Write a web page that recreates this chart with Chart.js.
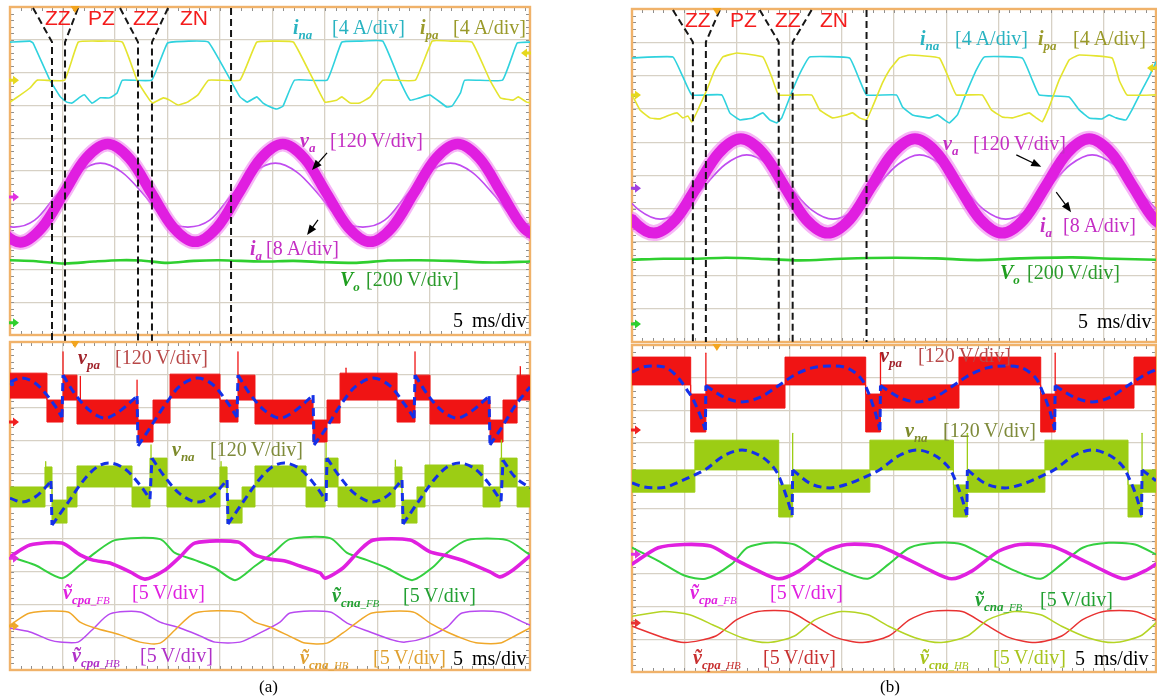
<!DOCTYPE html>
<html lang="en">
<head>
<meta charset="utf-8">
<title>Arm currents, arm voltages and capacitor ripple</title>
<script src="https://cdn.jsdelivr.net/npm/chart.js@4.4.1/dist/chart.umd.min.js"></script>
<style>
html,body{margin:0;padding:0;background:#fff;}
#fig{position:relative;width:1157px;height:698px;overflow:hidden;background:#fff;}
#fig canvas{position:absolute;}
.t{position:absolute;white-space:nowrap;font-family:"Liberation Serif","DejaVu Serif",serif;font-size:20px;line-height:20px;}
.v{font-weight:bold;font-style:italic;}
.v sub{font-size:13px;vertical-align:baseline;position:relative;top:5px;}
.v sub i{font-weight:normal;font-size:11px;}
.z{position:absolute;font-family:"Liberation Sans",Arial,sans-serif;font-size:21px;line-height:21px;color:#f41c1c;}
.cap{position:absolute;font-family:"Liberation Serif","DejaVu Serif",serif;font-size:17px;line-height:17px;color:#000;}
</style>
</head>
<body>
<div id="fig">
<canvas id="aTop" width="545" height="348" style="left:0;top:0"></canvas>
<canvas id="aBot" width="545" height="345" style="left:0;top:336px"></canvas>
<canvas id="bTop" width="537" height="350" style="left:620px;top:0"></canvas>
<canvas id="bBot" width="537" height="337" style="left:620px;top:342px"></canvas>

<!-- (a) upper screen -->
<div class="z" style="left:45px;top:7px">ZZ</div>
<div class="z" style="left:88px;top:7px">PZ</div>
<div class="z" style="left:133px;top:7px">ZZ</div>
<div class="z" style="left:180px;top:7px">ZN</div>
<div class="t" style="left:293px;top:17px;color:#29b3c1"><span class="v">i<sub>na</sub></span></div>
<div class="t" style="left:332px;top:17px;color:#29b3c1">[4&#8201;A/div]</div>
<div class="t" style="left:420px;top:17px;color:#9a9a2a"><span class="v">i<sub>pa</sub></span></div>
<div class="t" style="left:453px;top:17px;color:#9a9a2a">[4&#8201;A/div]</div>
<div class="t" style="left:300px;top:130px;color:#c42ec4"><span class="v">v<sub>a</sub></span></div>
<div class="t" style="left:330px;top:130px;color:#c42ec4">[120&#8201;V/div]</div>
<div class="t" style="left:250px;top:238px;color:#c42ec4"><span class="v">i<sub>a</sub></span></div>
<div class="t" style="left:266px;top:238px;color:#c42ec4">[8&#8201;A/div]</div>
<div class="t" style="left:340px;top:269px;color:#1e9e1e"><span class="v">V<sub>o</sub></span></div>
<div class="t" style="left:366px;top:269px;color:#2a9a2a">[200&#8201;V/div]</div>
<div class="t" style="left:453px;top:310px;color:#000">5&#8201; ms/div</div>

<!-- (a) lower screen -->
<div class="t" style="left:78px;top:347px;color:#a0222a"><span class="v">v<sub>pa</sub></span></div>
<div class="t" style="left:115px;top:347px;color:#b84848">[120&#8201;V/div]</div>
<div class="t" style="left:172px;top:439px;color:#7d8a2a"><span class="v">v<sub>na</sub></span></div>
<div class="t" style="left:210px;top:439px;color:#7e8a3a">[120&#8201;V/div]</div>
<div class="t" style="left:63px;top:582px;color:#e020e0"><span class="v">&#7805;<sub>cpa<i>_FB</i></sub></span></div>
<div class="t" style="left:132px;top:582px;color:#e020e0">[5&#8201;V/div]</div>
<div class="t" style="left:332px;top:585px;color:#22a032"><span class="v">&#7805;<sub>cna<i>_FB</i></sub></span></div>
<div class="t" style="left:403px;top:585px;color:#22a032">[5&#8201;V/div]</div>
<div class="t" style="left:72px;top:645px;color:#b030c8"><span class="v">&#7805;<sub>cpa<i>_HB</i></sub></span></div>
<div class="t" style="left:140px;top:645px;color:#b030c8">[5&#8201;V/div]</div>
<div class="t" style="left:300px;top:647px;color:#e0a030"><span class="v">&#7805;<sub>cna<i>_HB</i></sub></span></div>
<div class="t" style="left:373px;top:647px;color:#e0a030">[5&#8201;V/div]</div>
<div class="t" style="left:453px;top:648px;color:#000">5&#8201; ms/div</div>
<div class="cap" style="left:259px;top:678px">(a)</div>

<!-- (b) upper screen -->
<div class="z" style="left:685px;top:9px">ZZ</div>
<div class="z" style="left:730px;top:9px">PZ</div>
<div class="z" style="left:775px;top:9px">ZZ</div>
<div class="z" style="left:820px;top:9px">ZN</div>
<div class="t" style="left:920px;top:28px;color:#29b3c1"><span class="v">i<sub>na</sub></span></div>
<div class="t" style="left:955px;top:28px;color:#29b3c1">[4&#8201;A/div]</div>
<div class="t" style="left:1038px;top:28px;color:#9a9a2a"><span class="v">i<sub>pa</sub></span></div>
<div class="t" style="left:1073px;top:28px;color:#9a9a2a">[4&#8201;A/div]</div>
<div class="t" style="left:943px;top:133px;color:#c42ec4"><span class="v">v<sub>a</sub></span></div>
<div class="t" style="left:973px;top:133px;color:#c42ec4">[120&#8201;V/div]</div>
<div class="t" style="left:1040px;top:215px;color:#c42ec4"><span class="v">i<sub>a</sub></span></div>
<div class="t" style="left:1063px;top:215px;color:#c42ec4">[8&#8201;A/div]</div>
<div class="t" style="left:1000px;top:262px;color:#1e9e1e"><span class="v">V<sub>o</sub></span></div>
<div class="t" style="left:1027px;top:262px;color:#2a9a2a">[200&#8201;V/div]</div>
<div class="t" style="left:1078px;top:311px;color:#000">5&#8201; ms/div</div>

<!-- (b) lower screen -->
<div class="t" style="left:880px;top:345px;color:#a0222a"><span class="v">v<sub>pa</sub></span></div>
<div class="t" style="left:918px;top:345px;color:#b84848">[120&#8201;V/div]</div>
<div class="t" style="left:905px;top:420px;color:#7d8a2a"><span class="v">v<sub>na</sub></span></div>
<div class="t" style="left:943px;top:420px;color:#7e8a3a">[120&#8201;V/div]</div>
<div class="t" style="left:690px;top:582px;color:#e020e0"><span class="v">&#7805;<sub>cpa<i>_FB</i></sub></span></div>
<div class="t" style="left:770px;top:582px;color:#e020e0">[5&#8201;V/div]</div>
<div class="t" style="left:975px;top:589px;color:#22a032"><span class="v">&#7805;<sub>cna<i>_FB</i></sub></span></div>
<div class="t" style="left:1040px;top:589px;color:#22a032">[5&#8201;V/div]</div>
<div class="t" style="left:693px;top:647px;color:#c83030"><span class="v">&#7805;<sub>cpa<i>_HB</i></sub></span></div>
<div class="t" style="left:763px;top:647px;color:#c83030">[5&#8201;V/div]</div>
<div class="t" style="left:920px;top:647px;color:#a8c41c"><span class="v">&#7805;<sub>cna<i>_HB</i></sub></span></div>
<div class="t" style="left:993px;top:647px;color:#a8c41c">[5&#8201;V/div]</div>
<div class="t" style="left:1075px;top:648px;color:#000">5&#8201; ms/div</div>
<div class="cap" style="left:880px;top:678px">(b)</div>
</div>

<script>
// Time axis in ms (5 ms/div), vertical axis in screen divisions (-5 .. 5).

// ---------- (a) upper screen ----------
const aZoneLines = [4.0, 5.24, 12.19, 13.52, 21.05];
const aZoneTops = [2.19, 6.48, 10.48, 15.05, 21.05];
const aIna = [[0,3.93],[1.9,3.96],[2.2,3.9],[3.8,2.77],[4.8,2.26],[5.4,2.1],[5.9,2.07],[6.7,2.26],[7.1,2.32],[7.8,2.07],[8.6,2.23],[9.5,2.23],[10.2,2.38],[10.7,2.77],[13.5,2.77],[15.0,3.9],[17.0,3.96],[18.9,3.93],[21.0,2.77],[21.9,2.26],[22.6,2.1],[23.5,2.26],[24.1,2.07],[24.8,1.95],[25.4,1.89],[26.0,1.98],[27.1,2.77],[30.2,2.77],[31.6,3.93],[33.5,3.96],[35.5,3.96],[37.1,2.77],[38.1,2.16],[39.0,2.23],[40.0,2.32],[41.6,1.95],[42.1,1.98],[42.9,2.38],[43.3,2.77],[46.9,2.77],[48.3,3.9],[49.6,3.93]];
const aIpa = [[0,2.1],[1.0,2.32],[1.9,2.53],[2.6,2.77],[5.2,2.77],[6.5,3.93],[8.5,3.96],[10.7,3.93],[12.1,2.77],[13.3,2.16],[13.6,2.07],[14.6,2.23],[15.2,2.16],[16.0,2.01],[16.9,2.1],[17.9,2.32],[18.9,2.77],[21.9,2.77],[23.5,3.93],[25.5,3.96],[27.0,3.93],[28.9,2.77],[30.0,2.1],[31.1,2.16],[31.6,2.26],[32.4,2.07],[33.3,2.07],[34.3,2.26],[35.5,2.77],[38.6,2.77],[40.2,3.96],[42.0,3.96],[44.0,3.93],[45.7,2.77],[46.7,2.23],[47.9,2.16],[48.4,2.26],[49.2,2.1],[49.6,2.08]];
const aVa = [[-3.2,-0.67],[-1.12,-1.72],[0.97,-2.18],[3.05,-1.72],[5.13,-0.67],[7.22,0.38],[9.3,0.82],[11.38,0.38],[13.47,-0.67],[15.55,-1.72],[17.63,-2.16],[19.72,-1.72],[21.8,-0.67],[23.88,0.38],[25.97,0.82],[28.05,0.38],[30.13,-0.67],[32.22,-1.72],[34.3,-2.16],[36.38,-1.72],[38.47,-0.67],[40.55,0.38],[42.63,0.82],[44.72,0.38],[46.8,-0.67],[48.88,-1.72],[50.97,-2.16]];
const aIa = [[-1.8,-1.45],[0.27,-1.71],[2.35,-1.5],[4.43,-0.73],[6.52,-0.04],[8.6,0.24],[10.68,-0.04],[12.77,-0.73],[14.85,-1.5],[16.93,-1.71],[19.02,-1.5],[21.1,-0.73],[23.18,-0.04],[25.27,0.24],[27.35,-0.04],[29.43,-0.73],[31.52,-1.5],[33.6,-1.71],[35.68,-1.5],[37.77,-0.73],[39.85,-0.04],[41.93,0.24],[44.02,-0.04],[46.1,-0.73],[48.18,-1.5],[50.27,-1.71]];
const aVo = [[0,-2.72],[2.5,-2.75],[5.2,-2.82],[8,-2.76],[10.5,-2.72],[12.5,-2.73],[15,-2.8],[17.5,-2.74],[20,-2.72],[24,-2.76],[27,-2.74],[30,-2.78],[33,-2.8],[36,-2.73],[39,-2.72],[42,-2.74],[46,-2.79],[49.6,-2.76]];

// ---------- (a) lower screen ----------
// PWM envelope pieces: [start ms, upper div, lower div]
const aVpaBand = [[0,4.05,3.29],[3.52,3.23,2.56],[5.05,3.99,3.23],[6.38,3.23,2.5],[12.19,2.62,1.95],[13.62,3.23,2.53],[15.24,4.02,3.29],[20.0,3.23,2.56],[21.71,3.99,3.23],[23.33,3.23,2.5],[28.86,2.62,1.95],[30.19,3.23,2.53],[31.43,4.05,3.23],[36.86,3.23,2.56],[38.57,3.99,3.23],[40.0,3.23,2.5],[45.71,2.62,1.95],[46.95,3.23,2.53],[48.29,3.99,3.23]];
const aVpaSpikes = [[5.05,3.9,4.7],[12.1,3.2,3.84],[21.71,3.9,4.7],[38.57,3.9,4.7],[6.7,3.2,3.95],[32.0,3.9,4.2],[48.6,3.9,4.25]];
const aVpaRef = [
  [[0,3.78],[1.14,3.9],[2.38,3.75],[3.52,3.38],[4.29,3.05],[4.95,2.71]],
  [[5.05,3.99],[6.19,3.41],[7.62,2.9],[9.05,2.68],[10.48,2.9],[12.1,3.35]],
  [[12.19,1.83],[13.33,2.38],[14.76,3.08],[16.19,3.66],[17.81,3.9],[19.24,3.72],[20.48,3.26],[21.62,2.71]],
  [[21.71,3.99],[22.86,3.41],[24.29,2.9],[25.71,2.68],[27.14,2.9],[28.86,3.38]],
  [[28.95,1.86],[30.0,2.32],[31.43,3.05],[32.86,3.63],[34.57,3.9],[36.19,3.66],[37.62,3.08],[38.48,2.68]],
  [[38.57,3.99],[39.81,3.38],[41.14,2.9],[42.57,2.68],[44.0,2.9],[45.62,3.35]],
  [[45.71,1.86],[46.86,2.41],[48.1,3.05],[49.52,3.63]]
];
const aVnaBand = [[0,0.58,-0.03],[3.33,1.19,0.58],[4.0,0.18,-0.52],[5.43,0.58,-0.03],[6.38,1.22,0.58],[11.62,0.58,-0.03],[13.33,1.46,0.58],[14.95,0.58,-0.03],[20.0,1.19,0.58],[20.67,0.18,-0.52],[22.1,0.58,-0.03],[23.33,1.22,0.58],[28.19,0.58,-0.03],[30.0,1.46,0.58],[31.24,0.58,-0.03],[36.67,1.19,0.58],[37.33,0.18,-0.52],[38.76,0.58,-0.03],[39.52,1.25,0.58],[45.05,0.58,-0.03],[46.67,1.46,0.58],[48.29,0.58,-0.03]];
const aVnaSpikes = [[13.43,1.4,1.86],[30.1,1.4,1.92],[46.8,1.4,2.01],[3.4,1.1,1.35],[20.1,1.1,1.35],[36.7,1.1,1.4]];
const aVnaRef = [
  [[0,0.24],[1.14,0.12],[2.38,0.27],[3.33,0.55],[3.9,0.76]],
  [[4.0,-0.58],[5.43,0.06],[6.95,0.76],[8.29,1.19],[9.52,1.31],[10.95,1.13],[12.38,0.64],[13.33,0.21]],
  [[13.52,1.46],[14.76,0.88],[16.19,0.37],[17.81,0.12],[19.24,0.3],[20.67,0.79]],
  [[20.76,-0.55],[22.19,0.12],[23.62,0.76],[24.95,1.19],[26.19,1.31],[27.62,1.13],[29.05,0.64],[30.1,0.15]],
  [[30.19,1.46],[31.43,0.88],[32.86,0.37],[34.48,0.12],[35.9,0.3],[37.33,0.79]],
  [[37.43,-0.55],[38.86,0.12],[40.29,0.76],[41.62,1.19],[42.86,1.31],[44.29,1.13],[45.71,0.64],[46.76,0.15]],
  [[46.95,1.4],[48.1,0.88],[49.52,0.55]]
];
const aCpaFB = [[0,-1.55],[1.9,-1.19],[4.95,-1.13],[6.67,-1.49],[7.9,-1.65],[9.52,-1.74],[11.43,-2.01],[12.86,-2.23],[14.76,-1.95],[16.19,-1.55],[17.62,-1.13],[21.71,-1.1],[23.33,-1.49],[24.76,-1.62],[26.19,-1.68],[27.62,-1.83],[29.52,-2.04],[30.0,-2.2],[31.71,-1.89],[33.33,-1.34],[34.57,-1.04],[38.1,-1.04],[40.0,-1.4],[41.62,-1.52],[43.52,-1.71],[45.71,-2.01],[46.67,-2.16],[47.9,-1.95],[49.52,-1.52]];
const aCnaFB = [[0,-1.55],[2.38,-1.8],[4.95,-2.2],[6.67,-1.8],[8.1,-1.43],[10.0,-1.04],[14.29,-1.01],[15.71,-1.43],[17.62,-1.65],[19.52,-1.89],[21.43,-2.26],[23.33,-1.83],[25.05,-1.43],[26.67,-1.01],[30.48,-0.98],[32.1,-1.43],[34.0,-1.65],[35.9,-1.89],[38.29,-2.26],[40.29,-1.86],[41.62,-1.43],[43.52,-1.04],[47.33,-1.04],[49.24,-1.43],[49.52,-1.49]];
const aCpaHB = [[0,-3.72],[1.9,-3.84],[3.81,-4.09],[4.76,-4.15],[6.48,-4.15],[7.81,-3.78],[9.52,-3.29],[12.38,-3.23],[14.29,-3.54],[16.19,-3.72],[18.1,-3.96],[19.52,-4.15],[21.9,-4.15],[23.81,-3.87],[25.71,-3.54],[26.67,-3.26],[30.48,-3.23],[32.1,-3.57],[34.29,-3.84],[36.48,-4.09],[37.62,-4.15],[39.52,-4.02],[41.62,-3.69],[43.05,-3.26],[46.67,-3.23],[48.86,-3.54],[49.52,-3.63]];
const aCnaHB = [[0,-3.63],[1.9,-3.26],[5.52,-3.23],[6.67,-3.54],[8.1,-3.72],[10.48,-3.93],[12.38,-4.15],[14.29,-4.18],[15.71,-3.78],[17.62,-3.26],[21.9,-3.23],[23.33,-3.54],[24.76,-3.69],[26.95,-4.02],[28.1,-4.18],[30.19,-4.18],[31.71,-3.87],[33.33,-3.48],[34.48,-3.26],[38.38,-3.23],[40.0,-3.57],[41.62,-3.84],[43.52,-4.09],[44.57,-4.18],[46.67,-4.18],[47.9,-3.99],[49.52,-3.72]];

// ---------- (b) upper screen ----------
const bZoneLines = [5.81, 7.05, 14.0, 15.33, 22.38];
const bZoneTops = [3.9, 8.38, 12.19, 17.14, 22.38];
const bIna = [[0,3.53],[3.9,3.56],[4.86,2.96],[5.71,2.42],[8.57,2.42],[9.33,1.88],[10.29,1.67],[11.52,1.73],[12.48,1.88],[13.14,1.67],[13.81,1.58],[14.29,1.73],[15.33,2.57],[16.19,3.17],[16.95,3.56],[20.76,3.53],[21.71,2.87],[22.38,2.42],[25.24,2.42],[25.81,2.06],[26.76,1.82],[28.38,1.73],[29.14,1.82],[29.81,1.67],[30.29,1.58],[31.05,1.82],[31.9,2.48],[32.86,3.17],[33.62,3.56],[37.24,3.53],[38.19,2.87],[38.86,2.42],[41.71,2.36],[42.67,1.97],[43.62,1.73],[44.86,1.7],[45.52,1.82],[46.19,1.73],[47.14,1.67],[47.71,1.97],[48.19,2.27],[48.67,2.57],[49.33,2.96],[50,3.41]];
const bIpa = [[0,2.42],[0.76,1.97],[1.71,1.73],[2.67,1.7],[3.62,1.82],[4.29,1.88],[4.86,1.73],[5.33,1.79],[5.71,1.61],[6.29,1.97],[7.14,2.57],[7.9,3.17],[8.67,3.56],[10.0,3.68],[12.48,3.56],[13.33,2.96],[14.0,2.42],[17.14,2.42],[17.9,1.97],[19.14,1.73],[20.48,1.82],[21.05,1.88],[21.71,1.73],[22.38,1.67],[22.95,2.06],[23.9,2.78],[24.57,3.17],[25.52,3.53],[26.48,3.62],[29.33,3.53],[30.29,2.87],[30.95,2.42],[33.43,2.42],[34.29,1.97],[35.33,1.76],[36.29,1.73],[37.24,1.82],[37.9,1.88],[38.57,1.73],[39.14,1.61],[39.81,2.06],[40.76,2.87],[41.71,3.47],[42.67,3.62],[45.81,3.53],[46.48,2.87],[47.24,2.42],[50,2.42]];
const bVa = [[-2.09,-0.32],[-0.01,-1.32],[2.07,-1.73],[4.15,-1.32],[6.22,-0.32],[8.3,0.68],[10.38,1.1],[12.46,0.68],[14.54,-0.32],[16.61,-1.32],[18.69,-1.73],[20.77,-1.32],[22.85,-0.32],[24.93,0.68],[27.0,1.1],[29.08,0.68],[31.16,-0.32],[33.24,-1.32],[35.32,-1.73],[37.39,-1.32],[39.47,-0.32],[41.55,0.68],[43.63,1.1],[45.71,0.68],[47.78,-0.32],[49.86,-1.32],[51.94,-1.73]];
const bIa = [[-1.41,-0.35],[0.65,-1.03],[2.71,-1.31],[4.77,-1.03],[6.83,-0.35],[8.89,0.33],[10.95,0.62],[13.01,0.33],[15.07,-0.35],[17.13,-1.03],[19.19,-1.31],[21.25,-1.03],[23.31,-0.35],[25.37,0.33],[27.43,0.62],[29.49,0.33],[31.55,-0.35],[33.61,-1.03],[35.67,-1.31],[37.73,-1.03],[39.79,-0.35],[41.85,0.33],[43.91,0.62],[45.97,0.33],[48.03,-0.35],[50.09,-1.03]];
const bVo = [[0,-2.53],[3,-2.5],[6,-2.5],[9,-2.47],[13,-2.51],[16,-2.55],[20,-2.5],[25,-2.47],[29,-2.49],[33,-2.54],[37,-2.49],[42,-2.46],[46,-2.5],[50,-2.53]];

// ---------- (b) lower screen ----------
const bVpaBand = [[0,4.63,3.78],[5.6,3.5,2.34],[7.05,3.78,3.07],[14.6,4.63,3.78],[22.3,3.5,2.34],[23.71,3.78,3.07],[31.2,4.63,3.78],[39.0,3.5,2.34],[40.38,3.78,3.07],[47.9,4.63,3.78]];
const bVpaSpikes = [[7.05,3.7,4.75],[23.71,3.7,4.75],[40.38,3.7,4.75]];
const bVpaRef = [
  [[0,4.17],[1.1,4.33],[2.2,4.36],[3.3,4.3],[4.4,4.0],[5.3,3.6],[5.81,3.35],[6.5,2.85],[7.0,2.4]],
  [[7.05,3.76],[8.8,3.4],[10.5,3.26],[12.2,3.4],[14.0,3.76],[15.6,4.1],[17.2,4.3],[18.9,4.36],[20.5,4.3],[21.8,4.0],[22.48,3.6],[23.2,2.95],[23.66,2.4]],
  [[23.71,3.76],[25.5,3.4],[27.2,3.26],[28.9,3.4],[30.67,3.76],[32.3,4.1],[33.9,4.3],[35.6,4.36],[37.2,4.3],[38.5,4.0],[39.14,3.6],[39.9,2.95],[40.33,2.4]],
  [[40.38,3.76],[42.2,3.4],[43.9,3.26],[45.6,3.4],[47.33,3.76],[49,4.1],[50,4.25]]
];
const bVnaBand = [[0,1.18,0.5],[6.0,2.09,1.18],[14.0,0.72,-0.26],[15.33,1.18,0.5],[22.7,2.09,1.18],[30.67,0.72,-0.26],[32.0,1.18,0.5],[39.4,2.09,1.18],[47.33,0.72,-0.26],[48.67,1.18,0.5]];
const bVnaSpikes = [[15.33,1.1,2.3],[32.0,1.1,2.3],[48.67,1.1,2.3]];
const bVnaRef = [
  [[0,0.78],[1.1,0.66],[2.2,0.63],[3.3,0.66],[4.4,0.8],[5.81,1.0],[7.05,1.2],[8.8,1.62],[10.5,1.79],[12.2,1.62],[13.4,1.3],[14.0,1.0],[14.7,0.4],[15.28,-0.2]],
  [[15.33,1.18],[17.1,0.75],[18.9,0.63],[20.6,0.75],[22.48,1.0],[23.71,1.2],[25.5,1.62],[27.2,1.79],[28.9,1.62],[30.1,1.3],[30.67,1.0],[31.4,0.4],[31.95,-0.2]],
  [[32.0,1.18],[33.8,0.75],[35.6,0.63],[37.3,0.75],[39.14,1.0],[40.38,1.2],[42.2,1.62],[43.9,1.79],[45.6,1.62],[46.8,1.3],[47.33,1.0],[48.1,0.4],[48.62,-0.2]],
  [[48.67,1.18],[50,0.85]]
];
const bCpaFB = [[0,-1.7],[2.5,-1.2],[5,-1.1],[7.5,-1.15],[9.5,-1.5],[12,-1.9],[14,-2.15],[16,-1.9],[18.5,-1.3],[20.5,-1.1],[23.5,-1.15],[26,-1.5],[28.5,-1.9],[30.5,-2.15],[32.5,-1.9],[35,-1.3],[37,-1.1],[40,-1.15],[42.5,-1.5],[45,-1.9],[47,-2.15],[49,-1.9],[50,-1.7]];
const bCnaFB = [[0,-1.2],[2.5,-1.6],[5,-2.05],[7,-2.15],[9.5,-1.7],[11,-1.2],[13,-1.05],[15.5,-1.1],[17.5,-1.5],[20,-1.9],[22.5,-2.15],[24.5,-1.7],[26.5,-1.2],[29,-1.05],[31.5,-1.1],[34,-1.5],[36.5,-1.9],[39,-2.15],[41,-1.7],[43,-1.2],[45.5,-1.05],[48,-1.1],[50,-1.4]];
const bCpaHB = [[0,-3.6],[3,-3.95],[5,-4.1],[8,-3.9],[10,-3.4],[12,-3.15],[15,-3.15],[17,-3.5],[19.5,-3.95],[22,-4.1],[24.5,-3.9],[26.5,-3.4],[28.5,-3.15],[31.5,-3.15],[33.5,-3.5],[36,-3.95],[38.5,-4.1],[41,-3.9],[43,-3.4],[45,-3.15],[48,-3.15],[50,-3.4]];
const bCnaHB = [[0,-3.3],[3,-3.15],[5.5,-3.25],[8,-3.6],[10.5,-3.95],[13,-4.1],[15.5,-3.9],[17.5,-3.4],[20,-3.15],[22.5,-3.25],[24.5,-3.6],[27,-3.95],[29.5,-4.1],[32,-3.9],[34,-3.4],[36.5,-3.15],[39,-3.25],[41,-3.6],[43.5,-3.95],[46,-4.1],[48.5,-3.9],[50,-3.5]];

// ---------- drawing ----------
const COL = {
  grid: '#d7d1c5', frame: '#f0b26a', tick: '#8f8f8f',
  ina: '#2fd2de', ipa: '#e4e42e', va: '#e01ee0', vaHalo: 'rgba(238,120,238,0.55)', ia: '#c04cf0', vo: '#2fcf2f',
  vpa: '#f01414', vna: '#9ccd14', ref: '#1430e8', zone: '#161616',
  cpaFB: '#e020e0', cnaFB: '#34d040', cpaHBa: '#b84af0', cnaHBa: '#f0a82a', cpaHBb: '#e83232', cnaHBb: '#b4d424'
};

const pts = a => a.map(p => ({ x: p[0], y: p[1] }));
function trace(data, color, width, extra) {
  return Object.assign({ data: pts(data), borderColor: color, backgroundColor: color, borderWidth: width,
    pointRadius: 0, fill: false, tension: 0.33, borderCapStyle: 'round', borderJoinStyle: 'round' }, extra || {});
}
function band(pieces, tEnd, color) {
  const last = pieces[pieces.length - 1];
  const up = pieces.map(p => [p[0], p[1]]).concat([[tEnd, last[1]]]);
  const lo = pieces.map(p => [p[0], p[2]]).concat([[tEnd, last[2]]]);
  return [trace(up, color, 1, { stepped: true, tension: 0, fill: '+1', backgroundColor: color }),
          trace(lo, color, 1, { stepped: true, tension: 0 })];
}
function spikes(list, color) {
  return list.map(s => trace([[s[0], s[1]], [s[0], s[2]]], color, 1.3, { tension: 0 }));
}
function dashed(segs, color) {
  const out = [];
  segs.forEach((s, i) => {
    if (i > 0) {
      const p = segs[i - 1][segs[i - 1].length - 1];
      out.push(trace([p, s[0]], color, 3, { tension: 0, borderDash: [8, 5], borderCapStyle: 'butt' }));
    }
    out.push(trace(s, color, 3, { tension: 0.33, borderDash: [8, 5], borderCapStyle: 'butt' }));
  });
  return out;
}
function zones(lines, tops, knee, yTop, yBot) {
  return lines.map((t, i) => trace([[tops[i], yTop], [t, knee], [t, yBot]], COL.zone, 2,
    { tension: 0, borderDash: [7, 4], borderCapStyle: 'butt', clip: false }));
}

const scopeDecor = {
  id: 'scopeDecor',
  beforeDatasetsDraw(chart, _args, o) {
    const { ctx, chartArea: a, scales: { x, y } } = chart;
    ctx.save();
    ctx.strokeStyle = COL.tick; ctx.lineWidth = 1;
    ctx.beginPath();
    for (let i = 1; i < Math.ceil(x.max); i++) {
      const px = Math.round(x.getPixelForValue(i)) + 0.5;
      ctx.moveTo(px, a.top); ctx.lineTo(px, a.top + 4);
      ctx.moveTo(px, a.bottom); ctx.lineTo(px, a.bottom - 4);
    }
    for (let k = -24; k <= 24; k++) {
      const py = Math.round(y.getPixelForValue(k / 5)) + 0.5;
      ctx.moveTo(a.left, py); ctx.lineTo(a.left + 4, py);
      ctx.moveTo(a.right, py); ctx.lineTo(a.right - 4, py);
    }
    ctx.stroke();
    ctx.strokeStyle = COL.frame; ctx.lineWidth = 2.4;
    ctx.strokeRect(a.left, a.top, a.right - a.left, a.bottom - a.top);
    ctx.restore();
  },
  afterDatasetsDraw(chart, _args, o) {
    const { ctx, chartArea: a, scales: { x, y } } = chart;
    ctx.save();
    (o.markers || []).forEach(m => {
      const py = y.getPixelForValue(m.y);
      ctx.fillStyle = m.color;
      if (m.dot) { ctx.beginPath(); ctx.arc(a.left + 2, py, 2.2, 0, Math.PI * 2); ctx.fill(); return; }
      const px = m.right ? a.right : a.left, d = m.right ? -1 : 1;
      ctx.beginPath();
      ctx.moveTo(px - d, py - 1.5); ctx.lineTo(px + 3 * d, py - 1.5); ctx.lineTo(px + 3 * d, py - 4.5);
      ctx.lineTo(px + 9 * d, py); ctx.lineTo(px + 3 * d, py + 4.5); ctx.lineTo(px + 3 * d, py + 1.5);
      ctx.lineTo(px - d, py + 1.5); ctx.closePath(); ctx.fill();
    });
    (o.trig || []).forEach(t => {
      const px = x.getPixelForValue(t);
      ctx.fillStyle = '#f3a51e';
      ctx.beginPath(); ctx.moveTo(px - 4.5, a.top - 1); ctx.lineTo(px + 4.5, a.top - 1); ctx.lineTo(px, a.top + 6); ctx.closePath(); ctx.fill();
    });
    (o.arrows || []).forEach(ar => {
      const x0 = x.getPixelForValue(ar[0]), y0 = y.getPixelForValue(ar[1]);
      const x1 = x.getPixelForValue(ar[2]), y1 = y.getPixelForValue(ar[3]);
      const ang = Math.atan2(y1 - y0, x1 - x0);
      ctx.strokeStyle = '#000'; ctx.fillStyle = '#000'; ctx.lineWidth = 1.2;
      ctx.beginPath(); ctx.moveTo(x0, y0); ctx.lineTo(x1 - 6 * Math.cos(ang), y1 - 6 * Math.sin(ang)); ctx.stroke();
      ctx.beginPath(); ctx.moveTo(x1, y1);
      ctx.lineTo(x1 - 10 * Math.cos(ang) + 4 * Math.sin(ang), y1 - 10 * Math.sin(ang) - 4 * Math.cos(ang));
      ctx.lineTo(x1 - 10 * Math.cos(ang) - 4 * Math.sin(ang), y1 - 10 * Math.sin(ang) + 4 * Math.cos(ang));
      ctx.closePath(); ctx.fill();
    });
    ctx.restore();
  }
};

function scope(id, xMax, pad, datasets, deco) {
  datasets.forEach((d, i) => { d.order = -i; });
  const axis = (min, max, step) => ({
    type: 'linear', min, max,
    ticks: { display: false, stepSize: step },
    grid: { color: COL.grid, lineWidth: 1.3, drawTicks: false },
    border: { display: false }
  });
  return new Chart(document.getElementById(id), {
    type: 'line',
    data: { datasets },
    options: {
      responsive: false, animation: false, events: [],
      layout: { padding: pad },
      scales: { x: axis(0, xMax, 5), y: axis(-5, 5, 1) },
      plugins: { legend: { display: false }, tooltip: { enabled: false }, scopeDecor: deco }
    },
    plugins: [scopeDecor]
  });
}

// (a) upper screen
scope('aTop', 49.52, { left: 10, top: 7, right: 15, bottom: 13 }, [
  trace(aIna, COL.ina, 1.6, { tension: 0.1 }),
  trace(aIpa, COL.ipa, 1.6, { tension: 0.1 }),
  trace(aIa, COL.ia, 1.6),
  trace(aVa, COL.vaHalo, 15),
  trace(aVa, COL.va, 10.5),
  trace(aVo, COL.vo, 2.6, { tension: 0.3 }),
  ...zones(aZoneLines, aZoneTops, 3.93, 4.97, -5.2)
], {
  markers: [{ y: 2.77, color: '#e6d81e' }, { y: -0.79, color: '#e030e0' }, { y: -4.63, color: '#2ed02e' }, { y: 3.6, color: '#e6d81e', right: true }],
  trig: [6.19],
  arrows: [[30.19, 0.55, 28.76, 0.03], [29.33, -1.49, 28.29, -1.95]]
});

// (a) lower screen
scope('aBot', 49.52, { left: 10, top: 6, right: 15, bottom: 11 }, [
  ...band(aVpaBand, 49.6, COL.vpa),
  ...spikes(aVpaSpikes, COL.vpa),
  ...band(aVnaBand, 49.6, COL.vna),
  ...spikes(aVnaSpikes, COL.vna),
  ...dashed(aVpaRef, COL.ref),
  ...dashed(aVnaRef, COL.ref),
  trace(aCpaHB, COL.cpaHBa, 1.5, { tension: 0.25 }),
  trace(aCnaHB, COL.cnaHBa, 1.5, { tension: 0.25 }),
  trace(aCnaFB, COL.cnaFB, 2, { tension: 0.25 }),
  trace(aCpaFB, COL.cpaFB, 3.6, { tension: 0.25 })
], {
  markers: [{ y: 2.56, color: '#f02020' }, { y: 3.72, color: '#2040e0', dot: true }, { y: -1.59, color: '#e030e0' }, { y: -3.66, color: '#f0a82a' }],
  trig: [6.19]
});

// (b) upper screen
scope('bTop', 50, { left: 12, top: 9, right: 1, bottom: 8 }, [
  trace(bIna, COL.ina, 1.6, { tension: 0.1 }),
  trace(bIpa, COL.ipa, 1.6, { tension: 0.1 }),
  trace(bIa, COL.ia, 1.6),
  trace(bVa, COL.vaHalo, 16),
  trace(bVa, COL.va, 11),
  trace(bVo, COL.vo, 2.6, { tension: 0.3 }),
  ...zones(bZoneLines, bZoneTops, 4.01, 4.97, -5)
], {
  markers: [{ y: 2.42, color: '#e6d81e' }, { y: -0.38, color: '#a040e0' }, { y: -4.46, color: '#2ed02e' }, { y: 3.23, color: '#e6d81e', right: true }],
  trig: [8.1],
  arrows: [[36.67, 0.62, 39.05, 0.26], [40.48, -0.5, 41.9, -1.1]]
});

// (b) lower screen
scope('bBot', 50, { left: 12, top: 3, right: 1, bottom: 7 }, [
  ...band(bVpaBand, 50, COL.vpa),
  ...spikes(bVpaSpikes, COL.vpa),
  ...band(bVnaBand, 50, COL.vna),
  ...spikes(bVnaSpikes, COL.vna),
  ...dashed(bVpaRef, COL.ref),
  ...dashed(bVnaRef, COL.ref),
  trace(bCpaHB, COL.cpaHBb, 1.5, { tension: 0.25 }),
  trace(bCnaHB, COL.cnaHBb, 1.5, { tension: 0.25 }),
  trace(bCnaFB, COL.cnaFB, 2, { tension: 0.25 }),
  trace(bCpaFB, COL.cpaFB, 3.6, { tension: 0.25 })
], {
  markers: [{ y: 2.4, color: '#f02020' }, { y: -1.4, color: '#e030e0' }, { y: -3.5, color: '#e83232' }],
  trig: [8.1]
});
</script>
</body>
</html>
